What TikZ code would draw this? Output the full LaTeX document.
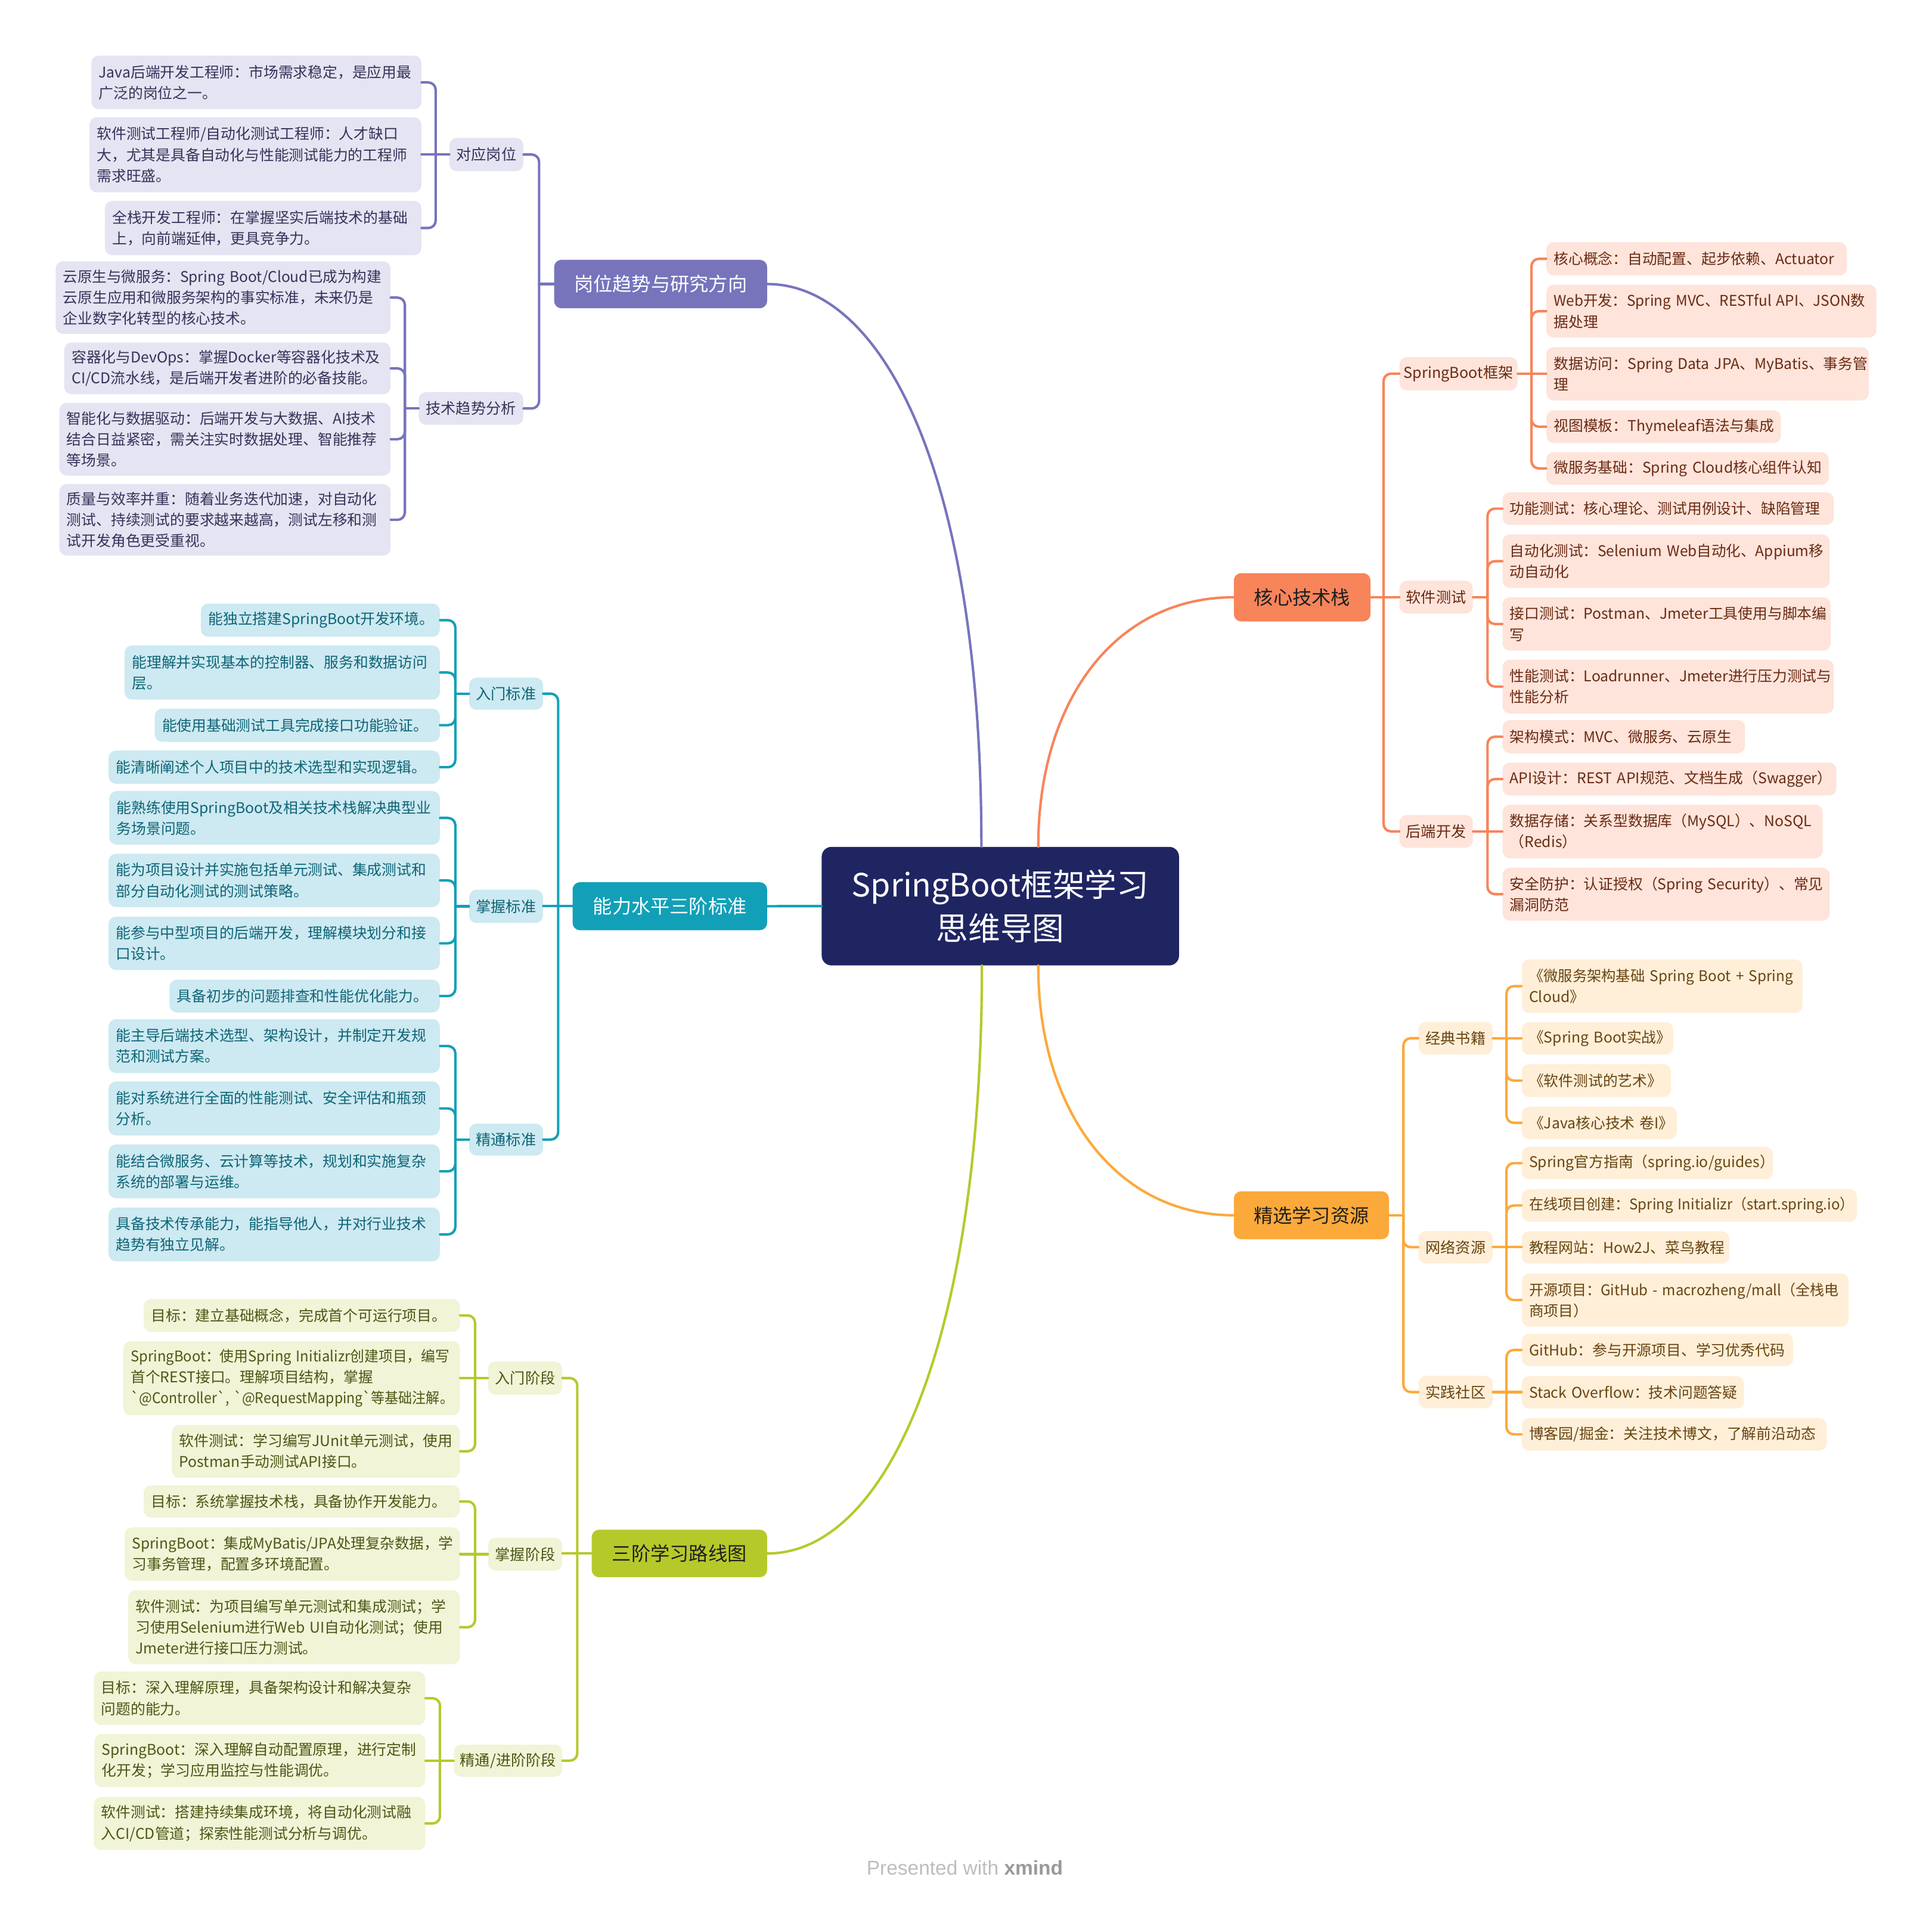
\documentclass[tikz,border=0pt]{standalone}
\usepackage{fontspec}
\usepackage{graphicx}
\setmainfont{Noto Sans CJK SC}
\newfontfamily\xmfont{Liberation Sans}
\usetikzlibrary{calc}
\definecolor{cen}{HTML}{1F2561}
\definecolor{pC}{HTML}{7774BC}\definecolor{pL}{HTML}{E4E4F2}\definecolor{pT}{HTML}{34335A}
\definecolor{tC}{HTML}{12A0B8}\definecolor{tL}{HTML}{CDE9F1}\definecolor{tT}{HTML}{0E6577}
\definecolor{lC}{HTML}{B6C92B}\definecolor{lL}{HTML}{F1F4D6}\definecolor{lT}{HTML}{4C5716}
\definecolor{oC}{HTML}{F8845A}\definecolor{oL}{HTML}{FEE4DA}\definecolor{oT}{HTML}{6A2A14}
\definecolor{yC}{HTML}{FCA93B}\definecolor{yL}{HTML}{FFEFD8}\definecolor{yT}{HTML}{684412}
\definecolor{mT}{HTML}{1E1E1E}
\newcommand\bq{\textasciigrave}
\newcommand\sq[2]{\scalebox{#1}[1]{#2}}
\newcommand\bx[7]{%
 \pgfmathsetmacro\bxW{#5-#3}%
 \pgfmathsetmacro\bxH{#6-#4}%
 \pgfmathsetmacro\bxT{#5-#3-12}%
 \node[#1, anchor=north west, minimum width=\bxW pt, minimum height=\bxH pt, text width=\bxT pt] (#2) at (#3,#4) {#7};%
}
\newcommand\cbx[7]{%
 \pgfmathsetmacro\bxW{#5-#3}%
 \pgfmathsetmacro\bxH{#6-#4}%
 \pgfmathsetmacro\bxX{(#3+#5)/2}%
 \pgfmathsetmacro\bxY{(#4+#6)/2}%
 \node[#1, minimum width=\bxW pt, minimum height=\bxH pt] (#2) at (\bxX,\bxY) {#7};%
}
\newcommand\elb[3]{\draw[cl=#1, rounded corners=6pt] (#2) |- (#3);}
\newcommand\stl[3]{\draw[cl=#1] (#2) -- (#2 -| #3);}
\tikzset{
 leaf/.style={rectangle, rounded corners=6pt, inner xsep=6pt, inner ysep=0pt, align=left,
   font=\fontsize{12}{17}\selectfont, execute at begin node={\hyphenpenalty=10000\relax}},
 pleaf/.style={leaf, fill=pL, text=pT},
 tleaf/.style={leaf, fill=tL, text=tT},
 lleaf/.style={leaf, fill=lL, text=lT},
 oleaf/.style={leaf, fill=oL, text=oT},
 yleaf/.style={leaf, fill=yL, text=yT},
 subn/.style={rectangle, rounded corners=6pt, inner sep=0pt, align=center, font=\fontsize{12.2}{17}\selectfont},
 mainn/.style={rectangle, rounded corners=6pt, inner sep=0pt, font=\fontsize{15.6}{20}\selectfont},
 cnode/.style={rectangle, rounded corners=8pt, fill=cen, text=white, inner sep=0pt, align=center,
   font=\fontsize{26}{35.5}\selectfont},
 cl/.style={draw=#1, line width=2pt, line cap=round}
}
\begin{document}
\begin{tikzpicture}[x=1pt,y=-1pt]
\fill[white] (0,0) rectangle (1569,1547);
\useasboundingbox (0,0) rectangle (1569,1547);

% ---- centre and main topics
\cbx{cnode}{c}{667.3}{687.8}{957.5}{784.1}{SpringBoot框架学习\\思维导图}
\cbx{mainn, fill=pC, text=white}{gw}{450}{211}{623}{250.4}{岗位趋势与研究方向}
\cbx{mainn, fill=tC, text=white}{nl}{465}{716.5}{623}{755.5}{能力水平三阶标准}
\cbx{mainn, fill=lC, text=mT}{lx}{480.5}{1242.4}{623}{1281}{三阶学习路线图}
\cbx{mainn, fill=oC, text=mT}{hx}{1002}{465.5}{1113}{504.7}{核心技术栈}
\cbx{mainn, fill=yC, text=mT}{zy}{1002}{967.5}{1128}{1006.5}{精选学习资源}

% ---- subtopics
\cbx{subn, fill=pL, text=pT}{gw1}{365}{112}{425}{139}{对应岗位}
\cbx{subn, fill=pL, text=pT}{gw2}{340}{318.5}{425}{345}{技术趋势分析}
\cbx{subn, fill=tL, text=tT}{nl1}{381}{550.4}{441}{576.4}{入门标准}
\cbx{subn, fill=tL, text=tT}{nl2}{381}{722.6}{441}{749.6}{掌握标准}
\cbx{subn, fill=tL, text=tT}{nl3}{381}{912.6}{441}{938.5}{精通标准}
\cbx{subn, fill=lL, text=lT}{lx1}{396.4}{1105.8}{456.6}{1132.7}{入门阶段}
\cbx{subn, fill=lL, text=lT}{lx2}{396.4}{1249}{456.6}{1275.6}{掌握阶段}
\cbx{subn, fill=lL, text=lT}{lx3}{368.6}{1417}{456.6}{1443}{精通/进阶阶段}
\cbx{subn, fill=oL, text=oT}{hx1}{1136.5}{290}{1232.4}{317}{SpringBoot框架}
\cbx{subn, fill=oL, text=oT}{hx2}{1136.5}{471.6}{1196.1}{498.3}{软件测试}
\cbx{subn, fill=oL, text=oT}{hx3}{1136.5}{661.9}{1196.1}{688.6}{后端开发}
\cbx{subn, fill=yL, text=yT}{zy1}{1152}{830}{1212.2}{856.4}{经典书籍}
\cbx{subn, fill=yL, text=yT}{zy2}{1152}{999.8}{1212.2}{1026.1}{网络资源}
\cbx{subn, fill=yL, text=yT}{zy3}{1152}{1117.4}{1212.2}{1143.8}{实践社区}

% ---- purple leaves
\bx{pleaf}{P1}{74}{45}{342}{88.5}{Java后端开发工程师：市场需求稳定，是应用最\\广泛的岗位之一。}
\bx{pleaf}{P2}{72.5}{95}{342}{156}{软件测试工程师/自动化测试工程师：人才缺口\\大，尤其是具备自动化与性能测试能力的工程师\\需求旺盛。}
\bx{pleaf}{P3}{85}{163}{342}{207}{全栈开发工程师：在掌握坚实后端技术的基础\\上，向前端延伸，更具竞争力。}
\bx{pleaf}{P4}{45}{212}{317}{271}{\sq{0.99}{\mbox{云原生与微服务：Spring Boot/Cloud已成为构建}}\\云原生应用和微服务架构的事实标准，未来仍是\\企业数字化转型的核心技术。}
\bx{pleaf}{P5}{52}{278}{317}{320}{容器化与DevOps：掌握Docker等容器化技术及\\CI/CD流水线，是后端开发者进阶的必备技能。}
\bx{pleaf}{P6}{48}{327}{317}{386}{智能化与数据驱动：后端开发与大数据、AI技术\\结合日益紧密，需关注实时数据处理、智能推荐\\等场景。}
\bx{pleaf}{P7}{48}{393}{317}{451}{质量与效率并重：随着业务迭代加速，对自动化\\测试、持续测试的要求越来越高，测试左移和测\\试开发角色更受重视。}

% ---- teal leaves
\bx{tleaf}{T1}{163}{490}{357}{517}{能独立搭建SpringBoot开发环境。}
\bx{tleaf}{T2}{101}{524}{357}{568}{能理解并实现基本的控制器、服务和数据访问\\层。}
\bx{tleaf}{T3}{125.5}{575.3}{357}{602.3}{能使用基础测试工具完成接口功能验证。}
\bx{tleaf}{T4}{88}{609.4}{357}{636.4}{能清晰阐述个人项目中的技术选型和实现逻辑。}
\bx{tleaf}{T5}{88.6}{642.3}{357}{685.9}{能熟练使用SpringBoot及相关技术栈解决典型业\\务场景问题。}
\bx{tleaf}{T6}{88}{693.2}{357}{736.5}{能为项目设计并实施包括单元测试、集成测试和\\部分自动化测试的测试策略。}
\bx{tleaf}{T7}{88}{744.3}{357}{787.6}{能参与中型项目的后端开发，理解模块划分和接\\口设计。}
\bx{tleaf}{T8}{137.5}{795.5}{357}{822.1}{具备初步的问题排查和性能优化能力。}
\bx{tleaf}{T9}{88}{827.5}{357}{871.2}{能主导后端技术选型、架构设计，并制定开发规\\范和测试方案。}
\bx{tleaf}{T10}{88}{878.2}{357}{921.9}{能对系统进行全面的性能测试、安全评估和瓶颈\\分析。}
\bx{tleaf}{T11}{88}{929.3}{357}{973}{能结合微服务、云计算等技术，规划和实施复杂\\系统的部署与运维。}
\bx{tleaf}{T12}{88}{980.5}{357}{1024.2}{具备技术传承能力，能指导他人，并对行业技术\\趋势有独立见解。}

% ---- lime leaves
\bx{lleaf}{L1}{116.5}{1054.8}{373.3}{1081.5}{目标：建立基础概念，完成首个可运行项目。}
\bx{lleaf}{L2}{100}{1089.2}{373.3}{1149.3}{\sq{0.96}{\mbox{SpringBoot：使用Spring Initializr创建项目，编写}}\\首个REST接口。理解项目结构，掌握\\\sq{0.93}{\mbox{\bq @Controller\bq, \bq @RequestMapping\bq 等基础注解。}}}
\bx{lleaf}{L3}{139.3}{1157.1}{373.3}{1199.9}{软件测试：学习编写JUnit单元测试，使用\\Postman手动测试API接口。}
\bx{lleaf}{L4}{116.5}{1206.2}{373.3}{1232.3}{目标：系统掌握技术栈，具备协作开发能力。}
\bx{lleaf}{L5}{101}{1240.3}{373.3}{1283.6}{\sq{0.99}{\mbox{SpringBoot：集成MyBatis/JPA处理复杂数据，学}}\\习事务管理，配置多环境配置。}
\bx{lleaf}{L6}{104}{1291.3}{373.3}{1351.5}{软件测试：为项目编写单元测试和集成测试；学\\\mbox{习使用Selenium进行Web UI自动化测试；使用}\\Jmeter进行接口压力测试。}
\bx{lleaf}{L7}{76}{1357.4}{345.2}{1400.7}{目标：深入理解原理，具备架构设计和解决复杂\\问题的能力。}
\bx{lleaf}{L8}{76.5}{1408.1}{345.2}{1451.3}{SpringBoot：深入理解自动配置原理，进行定制\\化开发；学习应用监控与性能调优。}
\bx{lleaf}{L9}{76}{1459.3}{345.2}{1502.3}{软件测试：搭建持续集成环境，将自动化测试融\\入CI/CD管道；探索性能测试分析与调优。}

% ---- orange leaves
\bx{oleaf}{O1}{1255.6}{196.5}{1499.6}{223.5}{核心概念：自动配置、起步依赖、Actuator}
\bx{oleaf}{O2}{1255.6}{231}{1523.6}{274}{\sq{0.98}{\mbox{Web开发：Spring MVC、RESTful API、JSON数}}\\据处理}
\bx{oleaf}{O3}{1255.6}{281.7}{1517.5}{325}{\mbox{数据访问：Spring Data JPA、MyBatis、事务管}\\理}
\bx{oleaf}{O4}{1255.6}{333}{1446}{359.7}{视图模板：Thymeleaf语法与集成}
\bx{oleaf}{O5}{1255.6}{367}{1485}{393.5}{\mbox{微服务基础：Spring Cloud核心组件认知}}
\bx{oleaf}{O6}{1220}{399.7}{1489}{426.1}{功能测试：核心理论、测试用例设计、缺陷管理}
\bx{oleaf}{O7}{1220}{433.9}{1485.7}{477.3}{\sq{0.99}{\mbox{自动化测试：Selenium Web自动化、Appium移}}\\动自动化}
\bx{oleaf}{O8}{1220}{484.9}{1486.5}{528.3}{接口测试：Postman、Jmeter工具使用与脚本编\\写}
\bx{oleaf}{O9}{1220}{535.6}{1489}{579.2}{性能测试：Loadrunner、Jmeter进行压力测试与\\性能分析}
\bx{oleaf}{O10}{1220}{584.7}{1417}{611.6}{架构模式：MVC、微服务、云原生}
\bx{oleaf}{O11}{1220}{619.2}{1491.2}{645.9}{\mbox{API设计：REST API规范、文档生成（Swagger）}}
\bx{oleaf}{O12}{1220}{653.4}{1480}{696.8}{数据存储：关系型数据库（MySQL）、NoSQL\\（Redis）}
\bx{oleaf}{O13}{1220}{704.6}{1485.7}{747.5}{\mbox{安全防护：认证授权（Spring Security）、常见}\\漏洞防范}

% ---- yellow leaves
\bx{yleaf}{Y1}{1235.6}{779}{1463.6}{822.5}{\sq{0.98}{\mbox{《微服务架构基础 Spring Boot + Spring}}\\Cloud》}
\bx{yleaf}{Y2}{1235.6}{830}{1358.6}{856.4}{\mbox{《Spring Boot实战》}}
\bx{yleaf}{Y3}{1235.6}{864.1}{1356.8}{890.8}{《软件测试的艺术》}
\bx{yleaf}{Y4}{1235.6}{898.6}{1361.6}{924.9}{\mbox{《Java核心技术 卷I》}}
\bx{yleaf}{Y5}{1235.6}{931.3}{1439.6}{957.6}{Spring官方指南（spring.io/guides）}
\bx{yleaf}{Y6}{1235.6}{965.7}{1508}{992}{\sq{0.97}{\mbox{在线项目创建：Spring Initializr（start.spring.io）}}}
\bx{yleaf}{Y7}{1235.6}{999.8}{1404.3}{1026.1}{教程网站：How2J、菜鸟教程}
\bx{yleaf}{Y8}{1235.6}{1034.2}{1501}{1077.2}{\sq{0.97}{\mbox{开源项目：GitHub - macrozheng/mall（全栈电}}\\商项目）}
\bx{yleaf}{Y9}{1235.6}{1083}{1456.1}{1109.4}{GitHub：参与开源项目、学习优秀代码}
\bx{yleaf}{Y10}{1235.6}{1117.4}{1416.1}{1143.8}{\mbox{Stack Overflow：技术问题答疑}}
\bx{yleaf}{Y11}{1235.6}{1151.6}{1483.3}{1177.9}{博客园/掘金：关注技术博文，了解前沿动态}

% ---- main connectors
\draw[cl=pC] ([xshift=-15.4pt]c.north) .. controls (797,380) and (715,230.7) .. (gw.east);
\draw[cl=oC] ([xshift=30.8pt]c.north) .. controls (843,570) and (905,485.1) .. (hx.west);
\draw[cl=tC] (c.west) -- (nl.east);
\draw[cl=lC] ([xshift=-15pt]c.south) .. controls (797.4,1090) and (720,1261.7) .. (lx.east);
\draw[cl=yC] ([xshift=30.8pt]c.south) .. controls (843,900) and (905,987) .. (zy.west);

% ---- purple brackets
\coordinate (jA) at ([xshift=-12pt]gw.west);
\draw[cl=pC] (gw.west) -- (jA);
\elb{pC}{jA}{gw1.east}
\elb{pC}{jA}{gw2.east}
\coordinate (jA1) at ([xshift=-11pt]gw1.west);
\draw[cl=pC] (gw1.west) -- (jA1);
\elb{pC}{jA1}{P1.east}
\stl{pC}{jA1}{P2.east}
\elb{pC}{jA1}{P3.east}
\coordinate (jA2) at ([xshift=-11pt]gw2.west);
\draw[cl=pC] (gw2.west) -- (jA2);
\elb{pC}{jA2}{P4.east}
\elb{pC}{jA2}{P5.east}
\elb{pC}{jA2}{P6.east}
\elb{pC}{jA2}{P7.east}

% ---- teal brackets
\coordinate (jB) at ([xshift=-11.5pt]nl.west);
\draw[cl=tC] (nl.west) -- (jB);
\elb{tC}{jB}{nl1.east}
\stl{tC}{jB}{nl2.east}
\elb{tC}{jB}{nl3.east}
\coordinate (jB1) at ([xshift=-11pt]nl1.west);
\draw[cl=tC] (nl1.west) -- (jB1);
\elb{tC}{jB1}{T1.east}
\elb{tC}{jB1}{T2.east}
\elb{tC}{jB1}{T3.east}
\elb{tC}{jB1}{T4.east}
\coordinate (jB2) at ([xshift=-11pt]nl2.west);
\draw[cl=tC] (nl2.west) -- (jB2);
\elb{tC}{jB2}{T5.east}
\elb{tC}{jB2}{T6.east}
\elb{tC}{jB2}{T7.east}
\elb{tC}{jB2}{T8.east}
\coordinate (jB3) at ([xshift=-11pt]nl3.west);
\draw[cl=tC] (nl3.west) -- (jB3);
\elb{tC}{jB3}{T9.east}
\elb{tC}{jB3}{T10.east}
\elb{tC}{jB3}{T11.east}
\elb{tC}{jB3}{T12.east}

% ---- lime brackets
\coordinate (jC) at ([xshift=-11.5pt]lx.west);
\draw[cl=lC] (lx.west) -- (jC);
\elb{lC}{jC}{lx1.east}
\stl{lC}{jC}{lx2.east}
\elb{lC}{jC}{lx3.east}
\coordinate (jC1) at ([xshift=-10.4pt]lx1.west);
\draw[cl=lC] (lx1.west) -- (jC1);
\elb{lC}{jC1}{L1.east}
\stl{lC}{jC1}{L2.east}
\elb{lC}{jC1}{L3.east}
\coordinate (jC2) at ([xshift=-10.4pt]lx2.west);
\draw[cl=lC] (lx2.west) -- (jC2);
\elb{lC}{jC2}{L4.east}
\stl{lC}{jC2}{L5.east}
\elb{lC}{jC2}{L6.east}
\coordinate (jC3) at ([xshift=-11.1pt]lx3.west);
\draw[cl=lC] (lx3.west) -- (jC3);
\elb{lC}{jC3}{L7.east}
\stl{lC}{jC3}{L8.east}
\elb{lC}{jC3}{L9.east}

% ---- orange brackets
\coordinate (jD) at ([xshift=10.4pt]hx.east);
\draw[cl=oC] (hx.east) -- (jD);
\elb{oC}{jD}{hx1.west}
\stl{oC}{jD}{hx2.west}
\elb{oC}{jD}{hx3.west}
\coordinate (jD1) at ([xshift=11.1pt]hx1.east);
\draw[cl=oC] (hx1.east) -- (jD1);
\elb{oC}{jD1}{O1.west}
\elb{oC}{jD1}{O2.west}
\stl{oC}{jD1}{O3.west}
\elb{oC}{jD1}{O4.west}
\elb{oC}{jD1}{O5.west}
\coordinate (jD2) at ([xshift=11.7pt]hx2.east);
\draw[cl=oC] (hx2.east) -- (jD2);
\elb{oC}{jD2}{O6.west}
\elb{oC}{jD2}{O7.west}
\elb{oC}{jD2}{O8.west}
\elb{oC}{jD2}{O9.west}
\coordinate (jD3) at ([xshift=11.7pt]hx3.east);
\draw[cl=oC] (hx3.east) -- (jD3);
\elb{oC}{jD3}{O10.west}
\elb{oC}{jD3}{O11.west}
\stl{oC}{jD3}{O12.west}
\elb{oC}{jD3}{O13.west}

% ---- yellow brackets
\coordinate (jE) at ([xshift=11.5pt]zy.east);
\draw[cl=yC] (zy.east) -- (jE);
\elb{yC}{jE}{zy1.west}
\elb{yC}{jE}{zy2.west}
\elb{yC}{jE}{zy3.west}
\coordinate (jE1) at ([xshift=11pt]zy1.east);
\draw[cl=yC] (zy1.east) -- (jE1);
\elb{yC}{jE1}{Y1.west}
\stl{yC}{jE1}{Y2.west}
\elb{yC}{jE1}{Y3.west}
\elb{yC}{jE1}{Y4.west}
\coordinate (jE2) at ([xshift=11pt]zy2.east);
\draw[cl=yC] (zy2.east) -- (jE2);
\elb{yC}{jE2}{Y5.west}
\elb{yC}{jE2}{Y6.west}
\stl{yC}{jE2}{Y7.west}
\elb{yC}{jE2}{Y8.west}
\coordinate (jE3) at ([xshift=11pt]zy3.east);
\draw[cl=yC] (zy3.east) -- (jE3);
\elb{yC}{jE3}{Y9.west}
\stl{yC}{jE3}{Y10.west}
\elb{yC}{jE3}{Y11.west}

% ---- footer
\node[font=\xmfont\fontsize{16.2}{18}\selectfont, text=black!26, inner sep=0pt] (pw) at (783.5,1517) {Presented with \textcolor{black!40}{\textbf{xmind}}};
\end{tikzpicture}
\end{document}
